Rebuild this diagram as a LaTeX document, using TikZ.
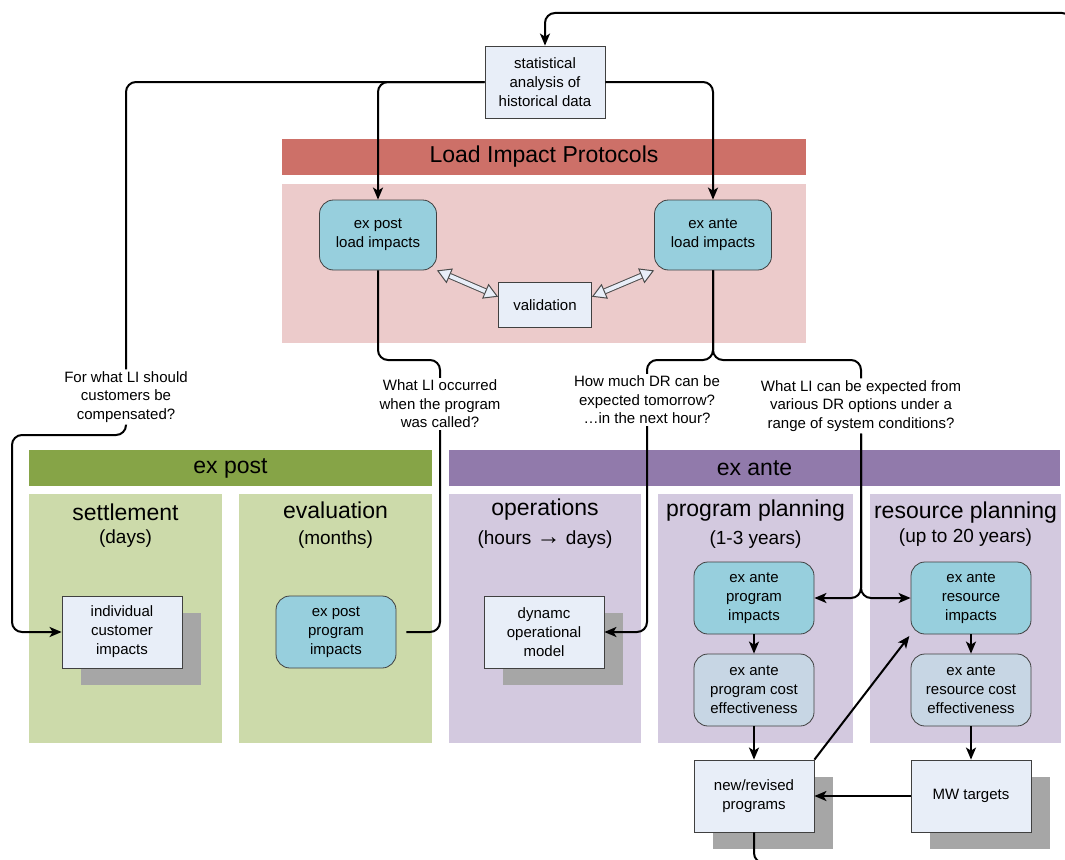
\documentclass[tikz,border=0pt]{standalone}
\usepackage{fontspec}
\setmainfont{Liberation Sans}
\usetikzlibrary{arrows.meta,shadows}
\definecolor{lipred}{HTML}{CD7068}
\definecolor{lippink}{HTML}{ECCBCB}
\definecolor{postgreen}{HTML}{86A447}
\definecolor{postpanel}{HTML}{CCDAAA}
\definecolor{antepurple}{HTML}{917AAB}
\definecolor{antepanel}{HTML}{D3C9DF}
\definecolor{boxblue}{HTML}{E8EEF8}
\definecolor{impteal}{HTML}{97CFDD}
\definecolor{costblue}{HTML}{C7D6E4}
\definecolor{shadowgray}{HTML}{A6A6A6}
\newcommand{\boxfont}{\fontsize{15}{19}\selectfont}
\newcommand{\qfont}{\fontsize{15}{18.5}\selectfont}
\newcommand{\bigfont}{\fontsize{23}{27}\selectfont}
\newcommand{\subfont}{\fontsize{19}{23}\selectfont}

\begin{document}
\begin{tikzpicture}[x=1pt,y=-1pt,
    box/.style={draw=black!75,thick,fill=boxblue,minimum width=120pt,minimum height=72pt,align=center,inner sep=1pt,font=\boxfont},
    shbox/.style={box,drop shadow={shadow xshift=19pt,shadow yshift=-17pt,fill=shadowgray,opacity=1}},
    impbox/.style={box,fill=impteal,rounded corners=14pt},
    costbox/.style={box,fill=costblue,rounded corners=14pt},
    banner/.style={minimum height=36pt,inner sep=0pt,font=\bigfont},
    ttl/.style={font=\bigfont,inner sep=1pt},
    sub/.style={font=\subfont,inner sep=1pt},
    question/.style={align=center,font=\qfont,inner sep=2pt},
    conn/.style={line width=2pt,rounded corners=10pt},
    arr/.style={conn,-{Stealth[length=12pt,width=10pt,inset=3pt]}},
    dblarr/.style={draw=black!70,line width=1pt,double=boxblue,double distance=4pt,
        {Triangle[length=14pt,width=16pt,fill=boxblue]}-{Triangle[length=14pt,width=16pt,fill=boxblue]}}]
  \useasboundingbox (0,0) rectangle (1065,859);

  % colour bands
  \fill[lippink] (282,184) rectangle (806,343);
  \node[banner,fill=lipred,minimum width=524pt] (lip) at (544,157) {Load Impact Protocols};
  \node[banner,fill=postgreen,minimum width=403pt] (postbar) at (230.5,468) {ex post};
  \node[banner,fill=antepurple,minimum width=611pt] (antebar) at (754.5,468) {ex ante};
  \fill[postpanel] (29,494) rectangle (222,743);
  \fill[postpanel] (239,494) rectangle (432,743);
  \fill[antepanel] (449,494) rectangle (641,743);
  \fill[antepanel] (658,494) rectangle (853,743);
  \fill[antepanel] (870,494) rectangle (1061,743);

  % panel titles
  \node[ttl] (settle) at (125.5,512) {settlement};
  \node[sub] (settleS) at (125.5,539) {(days)};
  \node[ttl] (evalT) at (335.5,510) {evaluation};
  \node[sub] (evalS) at (335.5,540) {(months)};
  \node[ttl] (opsT) at (545,510) {operations};
  \node[sub] (opsS) at (545,540) {(hours {\fontsize{24}{24}\selectfont →} days)};
  \node[ttl] (progT) at (755.5,511) {program planning};
  \node[sub] (progS) at (755.5,540) {(1-3 years)};
  \node[ttl] (resT) at (965.5,513) {resource planning};
  \node[sub] (resS) at (965.5,538) {(up to 20 years)};

  % boxes
  \node[box] (stat) at (545,82) {statistical\\analysis of\\historical data};
  \node[impbox,minimum width=117pt,minimum height=70pt] (expostLI) at (378,235) {ex post\\load impacts};
  \node[impbox,minimum width=117pt,minimum height=70pt] (exanteLI) at (713,235) {ex ante\\load impacts};
  \node[box,minimum width=93pt,minimum height=45pt] (valid) at (545,305) {validation};
  \node[shbox] (indiv) at (122,632) {individual\\customer\\impacts};
  \node[impbox] (eppi) at (336,632) {ex post\\program\\impacts};
  \node[shbox] (dynop) at (544,632) {dynamc\\operational\\model};
  \node[impbox] (eapi) at (754,598) {ex ante\\program\\impacts};
  \node[impbox] (eari) at (971,598) {ex ante\\resource\\impacts};
  \node[costbox] (eapce) at (754,690) {ex ante\\program cost\\effectiveness};
  \node[costbox] (earce) at (971,690) {ex ante\\resource cost\\effectiveness};
  \node[shbox] (newprog) at (754,796) {new/revised\\programs};
  \node[shbox] (mwt) at (971,796) {MW targets};

  % questions
  \node[question] (qsettle) at (126,397) {For what LI should\\customers be\\compensated?};
  \node[question] (qeval) at (440,404) {What LI occurred\\when the program\\was called?};
  \node[question] (qops) at (647,400) {How much DR can be\\expected tomorrow?\\…in the next hour?};
  \node[question] (qplan) at (861,406) {What LI can be expected from\\various DR options under a\\range of system conditions?};

  % connectors
  \draw[arr] (newprog.south) -- (754,863) -- (1072,863) -- (1072,13) -- (545,13) -- (stat.north);
  \draw[arr] (stat.west) -| (expostLI.north);
  \draw[arr] (stat.east) -| (exanteLI.north);
  \draw[conn] (stat.west) -| (qsettle.north);
  \draw[arr] (qsettle.south) |- (12,435) |- (indiv.west);
  \draw[conn] (expostLI.south) -- (378,360) -| (qeval.north);
  \draw[conn,shorten >=10pt] (qeval.south) |- (eppi.east);
  \draw[conn] (exanteLI.south) -- (713,360) -| (qops.north);
  \draw[conn] (exanteLI.south) -- (713,360) -| (qplan.north);
  \draw[arr] (qops.south) |- (dynop.east);
  \draw[arr] (qplan.south) |- (eapi.east);
  \draw[arr] (qplan.south) |- (eari.west);
  \draw[arr] (eapi.south) -- (eapce.north);
  \draw[arr] (eapce.south) -- (newprog.north);
  \draw[arr] (eari.south) -- (earce.north);
  \draw[arr] (earce.south) -- (mwt.north);
  \draw[arr] (mwt.west) -- (newprog.east);
  \draw[arr,shorten >=2pt] (newprog.north east) -- (eari.south west);
  \draw[dblarr] (expostLI.south east) -- (valid.170);
  \draw[dblarr] (valid.10) -- (exanteLI.south west);
\end{tikzpicture}
\end{document}
